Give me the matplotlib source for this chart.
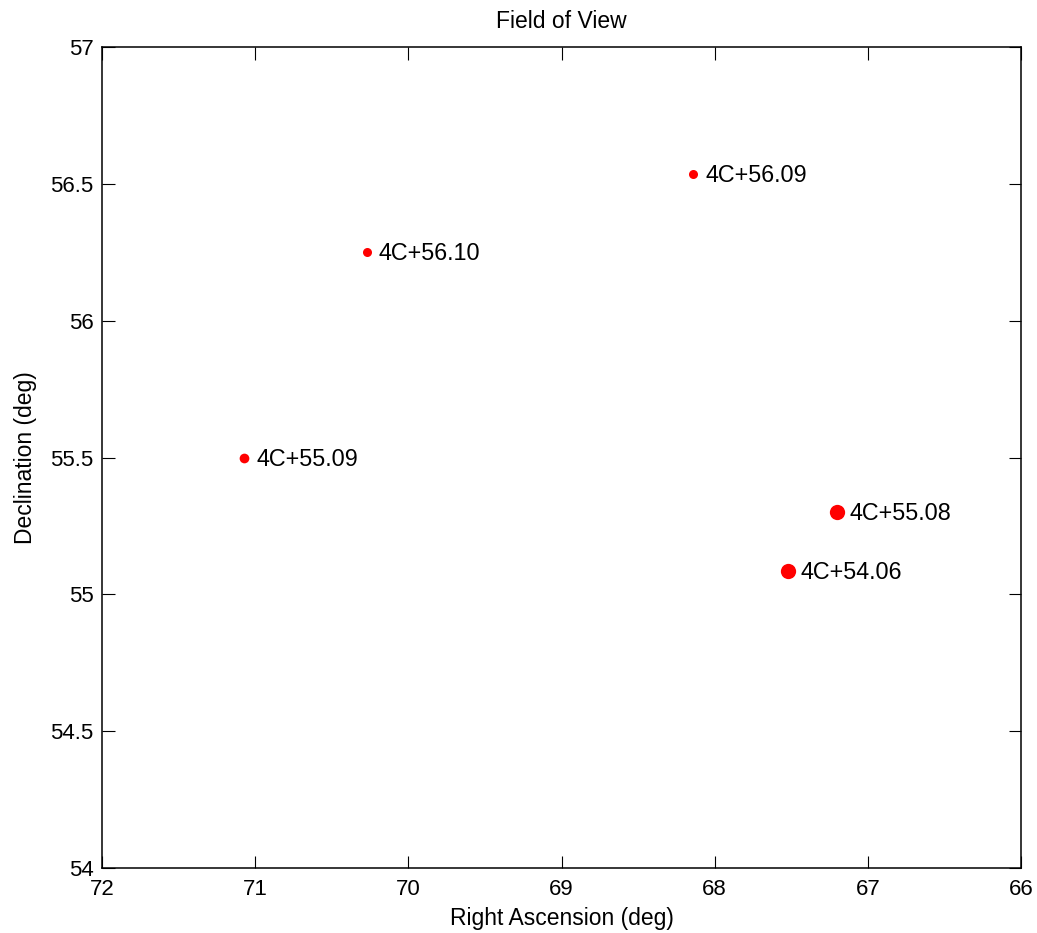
import matplotlib
matplotlib.use("Agg")
import matplotlib.pyplot as plt

plt.rcParams['font.family'] = ['Liberation Sans', 'DejaVu Sans']

# Radio sources in the field
names = ["4C+56.09", "4C+56.10", "4C+55.09", "4C+55.08", "4C+54.06"]
ra = [68.14, 70.27, 71.07, 67.20, 67.52]
dec = [56.535, 56.252, 55.497, 55.300, 55.086]
marker_sizes = [6.5, 6.5, 7.0, 11.0, 11.0]

xticks = [72, 71, 70, 69, 68, 67, 66]
yticks = [54, 54.5, 55, 55.5, 56, 56.5, 57]
ytick_labels = ["54", "54.5", "55", "55.5", "56", "56.5", "57"]

fig = plt.figure(figsize=(10.37, 9.33), dpi=100)
ax = fig.add_axes([102 / 1037, 1 - 868 / 933, 919 / 1037, 821 / 933])

for x, y, n, ms in zip(ra, dec, names, marker_sizes):
    ax.plot(x, y, 'o', color='red', markersize=ms, markeredgewidth=0)
    ax.annotate(n, (x, y), xytext=(12, 1), textcoords='offset pixels',
                va='center_baseline', ha='left', fontsize=16.8)

ax.set_xlim(72, 66)
ax.set_ylim(54, 57)
ax.set_xticks(xticks)
ax.set_yticks(yticks)
ax.set_yticklabels(ytick_labels)
ax.tick_params(direction='in', top=True, right=True, labelsize=16, length=9, width=0.8)
ax.tick_params(axis='x', pad=8)
ax.tick_params(axis='y', pad=6)
for s in ax.spines.values():
    s.set_linewidth(1.1)

ax.set_xlabel("Right Ascension (deg)", fontsize=16.5, labelpad=5)
ax.set_ylabel("Declination (deg)", fontsize=16.5, labelpad=10)
ax.set_title("Field of View", fontsize=16.5, pad=14)

fig.savefig("out.png", dpi=100)
